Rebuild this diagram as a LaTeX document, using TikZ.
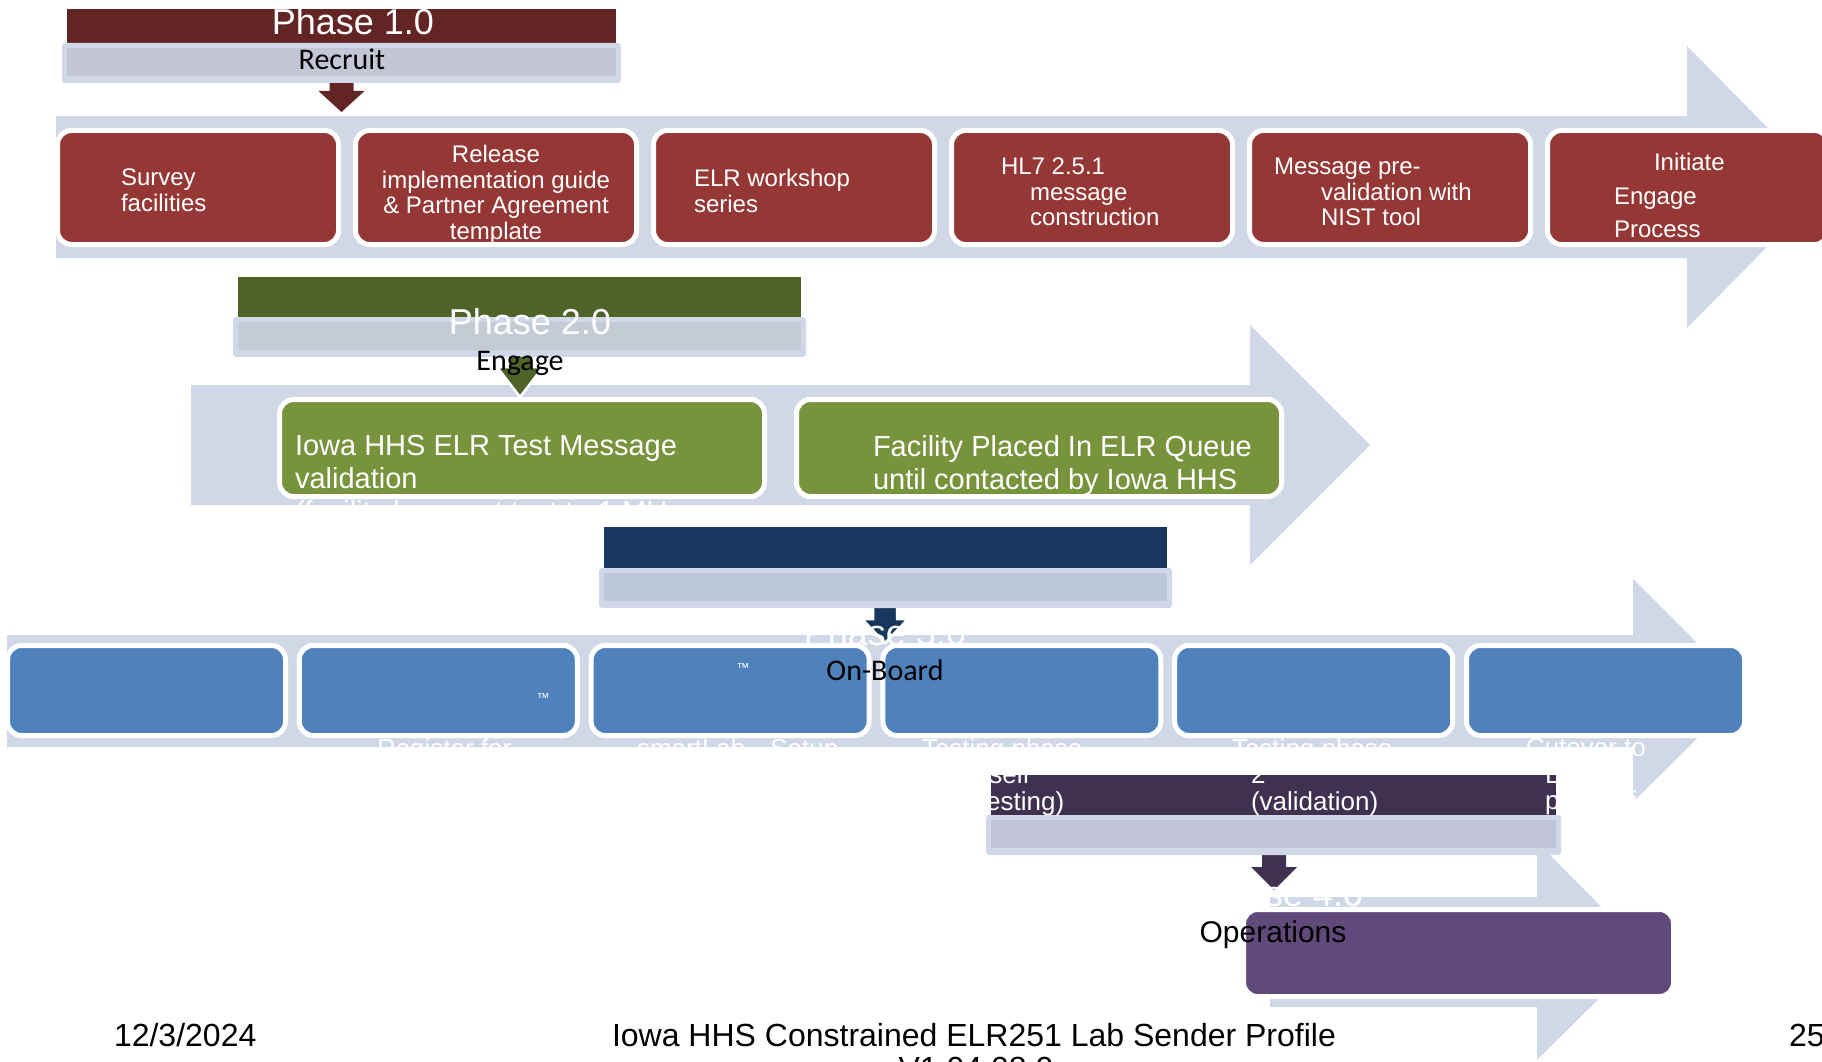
\documentclass[tikz,border=0pt]{standalone}
\usepackage{fontspec}
\setmainfont{Liberation Sans}
\newfontfamily\calibri{Carlito}
\usepackage{tikz}
\usetikzlibrary{positioning}
\definecolor{bandc}{HTML}{D0D8E8}
\definecolor{rdark}{HTML}{632523}
\definecolor{rbox}{HTML}{953735}
\definecolor{gdark}{HTML}{4F6228}
\definecolor{gbox}{HTML}{77933C}
\definecolor{ndark}{HTML}{17375E}
\definecolor{bbox}{HTML}{4F81BD}
\definecolor{pdark}{HTML}{403151}
\definecolor{pbox}{HTML}{604A7B}
\definecolor{tag1}{HTML}{C5C6D5}
\definecolor{tag2}{HTML}{C5CBD5}
\definecolor{tag3}{HTML}{BDC7DA}
\definecolor{tag4}{HTML}{C1C4D7}

\begin{document}
\begin{tikzpicture}[x=1pt, y=-1pt,
		every node/.style={inner sep=0pt, outer sep=0pt},
		box/.style={rectangle, rounded corners=14pt, draw=white, line width=5pt},
		redbox/.style={box, fill=rbox, minimum width=281pt, minimum height=114pt},
		greenbox/.style={box, fill=gbox, minimum width=485pt, minimum height=97pt},
		bluebox/.style={box, fill=bbox, minimum width=278pt, minimum height=90pt},
		purplebox/.style={box, fill=pbox, minimum width=430pt, minimum height=87pt},
		txt/.style={anchor=north west, align=left, text=white, execute at begin node=\strut},
		rowone/.style={txt, font=\fontsize{24}{25.5}\selectfont},
		rowtwo/.style={txt, font=\fontsize{29}{33}\selectfont},
		rowthree/.style={txt, font=\fontsize{26}{26.5}\selectfont},
		phasetitle/.style={anchor=base, text=white, font=\fontsize{36}{40}\selectfont},
		phasename/.style={anchor=base, font=\calibri\fontsize{30}{34}\selectfont},
		footer/.style={anchor=base, font=\fontsize{32}{36}\selectfont}]
	\useasboundingbox (0,0) rectangle (1822,1062);
	\fill[white] (0,0) rectangle (1822,1062);
	
	% process bands
	\fill[bandc] (56,116) -- (1687,116) -- (1687,46) -- (1826,187) -- (1687,328) -- (1687,258) -- (56,258) -- cycle;
	\fill[bandc] (191,385) -- (1250,385) -- (1250,325) -- (1370,445) -- (1250,565) -- (1250,505) -- (191,505) -- cycle;
	\fill[bandc] (7,635) -- (1633,635) -- (1633,579) -- (1745,691) -- (1633,802) -- (1633,747) -- (7,747) -- cycle;
	\fill[bandc] (1270,897) -- (1537,897) -- (1537,842) -- (1646,952) -- (1537,1060) -- (1537,1007) -- (1270,1007) -- cycle;
	
	% phase arrows
	\foreach \cx/\ty/\ny/\py/\col/\edge in {341.5/78/91/112/rdark/none, 520/352/367/397/gdark/white, 885/605/619/643/ndark/white, 1274/852/867/890/pdark/none}
	{
		\filldraw[fill=\col, draw=\edge, line width=2.5pt] (\cx-12,\ty) -- (\cx+12,\ty) -- (\cx+12,\ny) -- (\cx+23,\ny) -- (\cx,\py) -- (\cx-23,\ny) -- (\cx-12,\ny) -- cycle;
	}
	
	% phase headers
	\foreach \cx/\ty/\w/\h/\col[count=\n] in {341.5/9/549/34/rdark, 519.5/277/563/40/gdark, 885.5/527/563/41/ndark, 1273.5/775/565/40/pdark}
	{
		\node[fill=\col, anchor=north, minimum width=\w pt, minimum height=\h pt] (bar\n) at (\cx,\ty) {};
		\node[fill=bandc, rounded corners=3pt, anchor=north, minimum width=\w pt+10pt, minimum height=40pt] (tag\n) at (\cx,\ty+\h) {};
		\node[fill=tag\n, anchor=north, minimum width=\w pt, minimum height=28pt] (tagin\n) at (\cx,\ty+\h+5) {};
	}
	
	% step boxes
	\foreach \i in {0,...,5}
	{
		\node[redbox] (rec\i) at ({198+298*\i},187.5) {};
		\node[bluebox] (onb\i) at ({146.5+291.8*\i},690.5) {};
	}
	\node[greenbox] (eng1) at (522,448) {};
	\node[greenbox] (eng2) at (1039,448) {};
	\node[purplebox] (ops1) at (1458.5,953) {};
	
	% phase 1 texts
	\node[rowone] (rt0) at (121,169.15) {Survey\\facilities};
	\node[rowone, anchor=north, align=center] (rt1) at (496,145.15) {Release\\implementation guide\\\& Partner Agreement\\template};
	\node[rowone] (rt2) at (694,169.15) {ELR workshop\\series};
	\node[rowone] (rt3) at (1001,158.15) {HL7 2.5.1\\\hspace*{29pt}message\\\hspace*{29pt}construction};
	\node[rowone] (rt4) at (1274,158.15) {Message pre-\\\hspace*{47pt}validation with\\\hspace*{47pt}NIST tool};
	\node[rowone] (rt5) at (1614,153.15) {\hspace*{40pt}Initiate\\[8pt]Engage\\[8pt]Process};
	
	% phase 2 texts
	\node[rowtwo] (gt1) at (295,434.9) {Iowa HHS ELR Test Message\\validation\\(facility has sent test to 1 MU};
	\node[rowtwo] (gt2) at (873,435.9) {Facility Placed In ELR Queue\\until contacted by Iowa HHS};
	
	% phase 3 texts
	\node[text=white, font=\fontsize{13}{15}\selectfont] (tm1) at (543,698) {™};
	\node[text=white, font=\fontsize{13}{15}\selectfont] (tm2) at (743,668) {™};
	\node[rowthree] (bt1) at (377,738.45) {Register for};
	\node[rowthree] (bt2) at (637,738.45) {smartLab\hspace{25pt}Setup};
	\node[rowthree] (bt3) at (922,738.45) {Testing phase\\\hspace*{37pt}1 (self\\\hspace*{57pt}testing)};
	\node[rowthree] (bt4) at (1232,738.45) {Testing phase\\\hspace*{19pt}2\\\hspace*{19pt}(validation)};
	\node[rowthree] (bt5) at (1526,738.45) {Cutover to\\\hspace*{19pt}ELR\\\hspace*{19pt}production};
	
	% phase titles and names
	\foreach \lbl/\x/\y[count=\k] in {1.0/353/35, 2.0/530/334, 3.0/885/645, 4.0/1282/906}
	{
		\node[phasetitle] (title\k) at (\x,\y) {Phase \lbl};
	}
	\node[phasename] (recruit) at (342,70) {Recruit};
	\node[phasename] (engage) at (520,370) {Engage};
	\node[phasename] (onboard) at (885,680) {On-Board};
	\node[anchor=base, font=\fontsize{30}{34}\selectfont] (operations) at (1273,942) {Operations};
	
	% footer
	\node[footer, anchor=base west] (date) at (114,1046) {12/3/2024};
	\node[footer] (doctitle) at (974,1046) {Iowa HHS Constrained ELR251 Lab Sender Profile};
	\node[footer] (version) at (976,1079) {V1.04.08.0};
	\node[footer, anchor=base west] (page) at (1789,1046) {25};
\end{tikzpicture}
\end{document}
